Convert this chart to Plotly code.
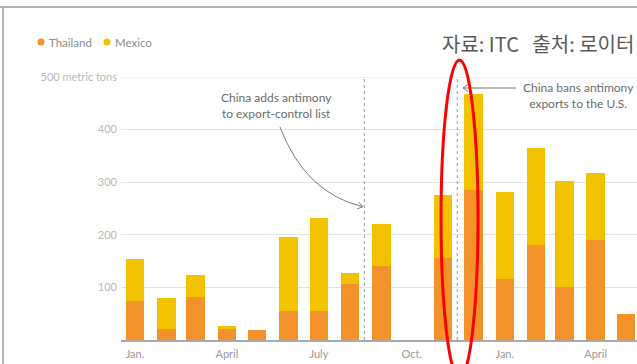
import math
import plotly.graph_objects as go

months = ['2024-01-01', '2024-02-01', '2024-03-01', '2024-04-01', '2024-05-01', '2024-06-01',
          '2024-07-01', '2024-08-01', '2024-09-01', '2024-10-01', '2024-11-01', '2024-12-01',
          '2025-01-01', '2025-02-01', '2025-03-01', '2025-04-01', '2025-05-01']
thailand = [74, 20, 82, 21, 19, 56, 55, 106, 141, 0, 156, 285, 116, 181, 101, 190, 50]
mexico = [80, 60, 41, 5, 0, 140, 177, 22, 80, 0, 120, 182, 165, 184, 201, 128, 0]

tick_dates = ['2024-01-01', '2024-04-01', '2024-07-01', '2024-10-01', '2025-01-01', '2025-04-01']
tick_text = ['Jan.<br>2024', 'April', 'July', 'Oct.', 'Jan.<br>2025', 'April']
y_ticks = [100, 200, 300, 400, 500]
y_text = ['100', '200', '300', '400', '500 metric tons']

C_TH = '#f3912b'
C_MX = '#f2c200'
FONT = 'Lato'

W, H = 637, 364
L, R, T, B = 121, 0, 77, 24
PW, PH = W - L - R, H - T - B


def px(x):
    return (x - L) / PW


def py(y):
    return (H - B - y) / PH


DAY = 86400000
fig = go.Figure()
fig.add_trace(go.Bar(x=months, y=thailand, name='Thailand', marker_color=C_TH,
                     width=18.3 * DAY, marker_line_width=0))
fig.add_trace(go.Bar(x=months, y=mexico, name='Mexico', marker_color=C_MX,
                     width=18.3 * DAY, marker_line_width=0))

shapes = []
# top gridline (at the edge of the range)
shapes.append(dict(type='line', xref='paper', yref='y', x0=0, x1=1, y0=500, y1=500,
                   line=dict(color='#e4e4e4', width=1), layer='below'))
# event lines
for d in ['2024-08-15', '2024-11-15']:
    shapes.append(dict(type='line', xref='x', yref='y', x0=d, x1=d, y0=0, y1=500,
                       line=dict(color='#9a9a9a', width=1, dash='dot')))

# curved arrow
p0, c, p2 = (280, 127), (305, 193), (362.7, 206.7)
shapes.append(dict(type='path', xref='paper', yref='paper',
                   path=f'M {px(p0[0])} {py(p0[1])} Q {px(c[0])} {py(c[1])} {px(p2[0])} {py(p2[1])}',
                   line=dict(color='#7a7a7a', width=1)))


def chevron(tip, frm, size=6, ang=35):
    dx, dy = tip[0] - frm[0], tip[1] - frm[1]
    n = math.hypot(dx, dy)
    ux, uy = dx / n, dy / n
    pts = []
    for s in (1, -1):
        a = math.radians(ang * s)
        rx = ux * math.cos(a) - uy * math.sin(a)
        ry = ux * math.sin(a) + uy * math.cos(a)
        pts.append((tip[0] - size * rx, tip[1] - size * ry))
    return dict(type='path', xref='paper', yref='paper',
                path=f'M {px(pts[0][0])} {py(pts[0][1])} L {px(tip[0])} {py(tip[1])} L {px(pts[1][0])} {py(pts[1][1])}',
                line=dict(color='#7a7a7a', width=1))


shapes.append(chevron(p2, c))
# straight arrow
shapes.append(dict(type='line', xref='paper', yref='paper', x0=px(516), x1=px(463), y0=py(88), y1=py(88),
                   line=dict(color='#7a7a7a', width=1)))
shapes.append(chevron((463, 88), (516, 88)))

# legend dots
for cx, col in [(41, C_TH), (107, C_MX)]:
    shapes.append(dict(type='circle', xref='paper', yref='paper', x0=px(cx - 3.5), x1=px(cx + 3.5),
                       y0=py(42 + 3.5), y1=py(42 - 3.5), fillcolor=col, line=dict(width=0)))

# frame lines of the screenshot
shapes.append(dict(type='line', xref='paper', yref='paper', x0=px(0), x1=px(637), y0=py(7), y1=py(7),
                   line=dict(color='#9a9a9a', width=1.5)))
shapes.append(dict(type='line', xref='paper', yref='paper', x0=px(3), x1=px(3), y0=py(7), y1=py(364),
                   line=dict(color='#9a9a9a', width=1.5)))

# red hand-drawn ellipse
shapes.append(dict(type='circle', xref='paper', yref='paper', x0=px(441), x1=px(478),
                   y0=py(378), y1=py(60), line=dict(color='#ff0000', width=3)))

annotations = [
    dict(xref='paper', yref='paper', x=px(47), y=py(42), text='Thailand', showarrow=False,
         xanchor='left', yanchor='middle', font=dict(size=11.5, color='#8a8a8a', family=FONT)),
    dict(xref='paper', yref='paper', x=px(113), y=py(42), text='Mexico', showarrow=False,
         xanchor='left', yanchor='middle', font=dict(size=11.5, color='#8a8a8a', family=FONT)),
    dict(xref='paper', yref='paper', x=px(276), y=py(105), text='China adds antimony<br>to export-control list',
         showarrow=False, xanchor='center', yanchor='middle', align='center',
         font=dict(size=12, color='#6b6b6b', family=FONT)),
    dict(xref='paper', yref='paper', x=px(578), y=py(96), text='China bans antimony<br>exports to the U.S.',
         showarrow=False, xanchor='center', yanchor='middle', align='center',
         font=dict(size=12, color='#6b6b6b', family=FONT)),
    dict(xref='paper', yref='paper', x=px(636), y=py(43), text='자료: ITC   출처: 로이터',
         showarrow=False, xanchor='right', yanchor='middle',
         font=dict(size=20, color='#595959', family='Noto Sans CJK KR')),
]

fig.update_layout(
    width=W, height=H, barmode='stack', showlegend=False,
    margin=dict(l=L, r=R, t=T, b=B, pad=0, autoexpand=False),
    paper_bgcolor='white', plot_bgcolor='white',
    shapes=shapes, annotations=annotations,
    font=dict(family=FONT),
    xaxis=dict(type='date', range=['2023-12-18 03:20', '2025-05-11 21:20'],
               tickvals=tick_dates, ticktext=tick_text, showgrid=False,
               showline=True, linecolor='#a8a8a8', linewidth=1.5, ticks='',
               ticklabelstandoff=3, automargin=False,
               tickfont=dict(size=11, color='#9a9a9a', family=FONT)),
    yaxis=dict(range=[0, 500], tickvals=y_ticks, ticktext=y_text, showgrid=True,
               gridcolor='#e4e4e4', gridwidth=1, zeroline=False, ticks='',
               ticklabelstandoff=3, automargin=False,
               tickfont=dict(size=11, color='#b8b8b8', family=FONT)),
)

fig.write_html('out.html')
